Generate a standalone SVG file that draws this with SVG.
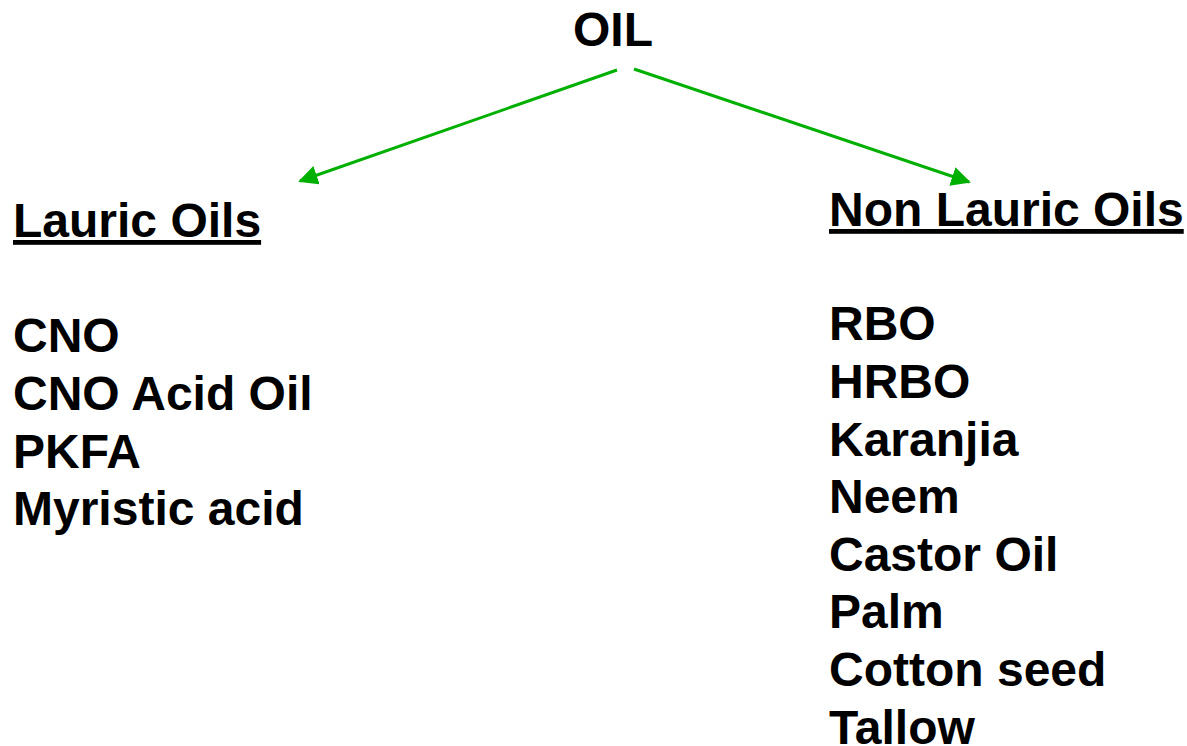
<svg xmlns="http://www.w3.org/2000/svg" width="1187" height="746" viewBox="0 0 1187 746">
<style>
text{font-family:"Liberation Sans",Arial,sans-serif;font-weight:bold;font-size:48px;fill:#000}
.u{text-decoration:underline}
.c{stroke:#00B000;stroke-width:3;fill:none}
</style>
<defs>
<marker id="ah" viewBox="0 0 10 10" refX="9" refY="5" markerWidth="6.5" markerHeight="6.5" orient="auto" markerUnits="strokeWidth">
<path d="M0,0 L10,5 L0,10 Z" fill="#00B000"/>
</marker>
</defs>
<rect width="1187" height="746" fill="#fff"/>
<g id="connectors">
<line class="c" x1="617" y1="70" x2="300" y2="181" marker-end="url(#ah)"/>
<line class="c" x1="634" y1="69" x2="969" y2="182" marker-end="url(#ah)"/>
</g>
<g id="oil"><text x="573" y="46">OIL</text></g>
<g id="lauric">
<text class="u" x="13" y="237">Lauric Oils</text>
<text x="13" y="352">CNO</text>
<text x="13" y="410">CNO Acid Oil</text>
<text x="13" y="468">PKFA</text>
<text x="13" y="525">Myristic acid</text>
</g>
<g id="nonlauric">
<text class="u" x="829" y="226">Non Lauric Oils</text>
<text x="829" y="340">RBO</text>
<text x="829" y="398">HRBO</text>
<text x="829" y="456">Karanjia</text>
<text x="829" y="513">Neem</text>
<text x="829" y="571">Castor Oil</text>
<text x="829" y="628">Palm</text>
<text x="829" y="686">Cotton seed</text>
<text x="829" y="744">Tallow</text>
</g>
</svg>
